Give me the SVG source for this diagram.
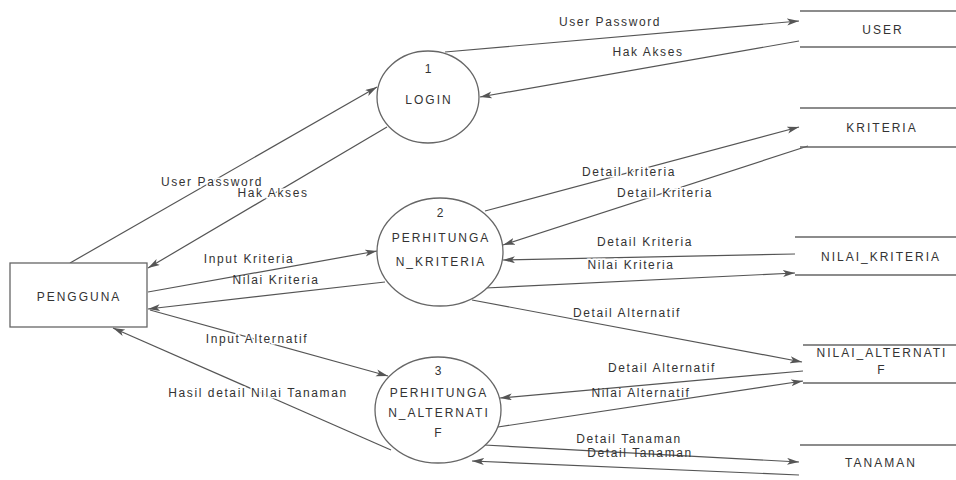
<svg xmlns="http://www.w3.org/2000/svg" width="956" height="480" viewBox="0 0 956 480">
<defs>
<marker id="arr" markerWidth="13" markerHeight="8" refX="12" refY="3.5" orient="auto" markerUnits="userSpaceOnUse">
<path d="M0,0 L12,3.5 L0,7 L3,3.5 z" fill="#555"/>
</marker>
<style>
.n{fill:#fff;stroke:#666;stroke-width:1.3}
.s{stroke:#666;stroke-width:1.3;fill:none}
.f{stroke:#555;stroke-width:1.2;fill:none;marker-end:url(#arr)}
.t{font-family:"Liberation Sans",Arial,sans-serif;font-size:12px;fill:#333;text-anchor:middle;letter-spacing:2px}
.l{font-family:"Liberation Sans",Arial,sans-serif;font-size:12px;fill:#333;text-anchor:middle;letter-spacing:1.6px;stroke:#fff;stroke-width:3px;paint-order:stroke}
.o{stroke:none}
</style>
</defs>
<rect width="956" height="480" fill="#fff"/>
<g id="connectors">
<line class="f" x1="445" y1="52" x2="799" y2="21"/>
<line class="f" x1="799" y1="41" x2="480" y2="97"/>
<line class="f" x1="70" y1="263" x2="377" y2="87"/>
<line class="f" x1="387" y1="127" x2="148" y2="268"/>
<line class="f" x1="485" y1="211" x2="799" y2="127"/>
<line class="f" x1="808" y1="146" x2="503" y2="245"/>
<line class="f" x1="795" y1="254" x2="503" y2="260"/>
<line class="f" x1="485" y1="288" x2="795" y2="273"/>
<line class="f" x1="148" y1="292" x2="377" y2="251"/>
<line class="f" x1="472" y1="300" x2="802" y2="362"/>
<line class="f" x1="150" y1="310" x2="388" y2="376"/>
<line class="f" x1="391" y1="450" x2="113" y2="328"/>
<line class="f" x1="803" y1="371" x2="500" y2="398"/>
<line class="f" x1="484" y1="445" x2="799" y2="462"/>
<text class="l" x="610" y="26">User Password</text>
<text class="l" x="648" y="56">Hak Akses</text>
<text class="l" x="212" y="186">User Password</text>
<text class="l" x="273" y="197">Hak Akses</text>
<text class="l" x="629" y="176">Detail kriteria</text>
<text class="l" x="665" y="197">Detail Kriteria</text>
<text class="l" x="645" y="246">Detail Kriteria</text>
<text class="l" x="631" y="269">Nilai Kriteria</text>
<text class="l" x="249" y="263">Input Kriteria</text>
<text class="l o" x="276" y="284">Nilai Kriteria</text>
<text class="l" x="257" y="343">Input Alternatif</text>
<text class="l" x="258" y="397">Hasil detail Nilai Tanaman</text>
<text class="l" x="627" y="317">Detail Alternatif</text>
<text class="l" x="662" y="372">Detail Alternatif</text>
<text class="l o" x="641" y="397">Nilai Alternatif</text>
<text class="l" x="629" y="443">Detail Tanaman</text>
<text class="l o" x="640" y="457">Detail Tanaman</text>
<line class="f" x1="385" y1="282" x2="148" y2="309"/>
<line class="f" x1="498" y1="427" x2="803" y2="381"/>
<line class="f" x1="799" y1="475" x2="472" y2="461"/>
</g>
<g id="pengguna">
<rect class="n" x="10" y="263" width="137" height="64"/>
<text class="t" x="79" y="301">PENGGUNA</text>
</g>
<g id="p1">
<ellipse class="n" cx="428" cy="97" rx="51" ry="46"/>
<text class="t" x="429" y="73">1</text>
<text class="t" x="429" y="104">LOGIN</text>
</g>
<g id="p2">
<ellipse class="n" cx="440" cy="252" rx="63" ry="54"/>
<text class="t" x="441" y="217">2</text>
<text class="t" x="441" y="242">PERHITUNGA</text>
<text class="t" x="441" y="266">N_KRITERIA</text>
</g>
<g id="p3">
<ellipse class="n" cx="438" cy="410" rx="63" ry="53"/>
<text class="t" x="439" y="375">3</text>
<text class="t" x="439" y="397">PERHITUNGA</text>
<text class="t" x="439" y="417">N_ALTERNATI</text>
<text class="t" x="439" y="437">F</text>
</g>
<g id="user">
<line class="s" x1="800" y1="11" x2="956" y2="11"/>
<line class="s" x1="800" y1="47" x2="956" y2="47"/>
<text class="t" x="883" y="34">USER</text>
</g>
<g id="kriteria">
<line class="s" x1="800" y1="108" x2="956" y2="108"/>
<line class="s" x1="800" y1="147" x2="956" y2="147"/>
<text class="t" x="882" y="132">KRITERIA</text>
</g>
<g id="nilai_kriteria">
<line class="s" x1="795" y1="237" x2="956" y2="237"/>
<line class="s" x1="795" y1="275" x2="956" y2="275"/>
<text class="t" x="881" y="261">NILAI_KRITERIA</text>
</g>
<g id="nilai_alternatif">
<line class="s" x1="803" y1="345" x2="956" y2="345"/>
<line class="s" x1="803" y1="383" x2="956" y2="383"/>
<text class="t" x="882" y="357">NILAI_ALTERNATI</text>
<text class="t" x="882" y="374">F</text>
</g>
<g id="tanaman">
<line class="s" x1="800" y1="445" x2="956" y2="445"/>
<text class="t" x="881" y="467">TANAMAN</text>
</g>
</svg>
